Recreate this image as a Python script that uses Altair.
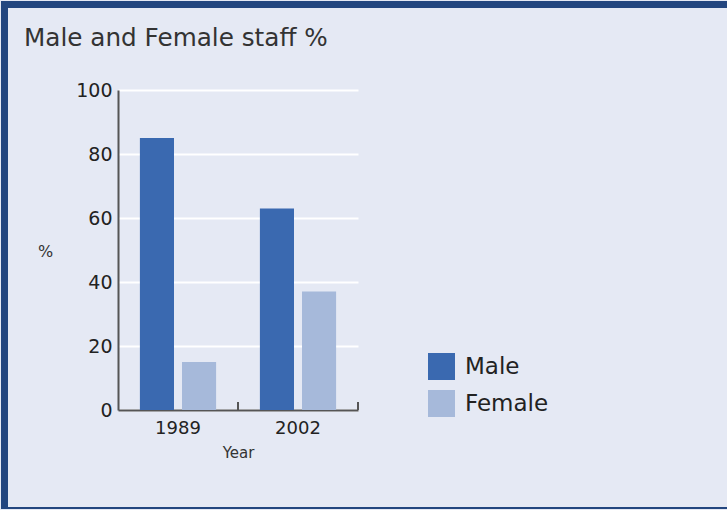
import altair as alt
import pandas as pd

years = ["1989", "2002"]
genders = ["Male", "Female"]
male = [85, 63]
female = [15, 37]
y_ticks = [0, 20, 40, 60, 80, 100]

rows = []
for i, yr in enumerate(years):
    rows.append({"Year": yr, "Gender": "Male", "Pct": male[i]})
    rows.append({"Year": yr, "Gender": "Female", "Pct": female[i]})
df = pd.DataFrame(rows)

W, H = 240, 320
PL, PT = 118, 90
CW, CH = 727, 510
FONT = "DejaVu Sans"
BORDER = "#23467F"

xscale = alt.Scale(domain=years, paddingInner=0, paddingOuter=0)

bars = alt.Chart(df).mark_bar().encode(
    x=alt.X("Year:N", scale=xscale, sort=years,
            axis=alt.Axis(title="Year", labelAngle=0, ticks=False, grid=False,
                          labelFontSize=18, labelPadding=9, titleFontSize=15,
                          titleFontWeight="normal", titlePadding=8,
                          domainColor="#555", domainWidth=2)),
    xOffset=alt.XOffset("Gender:N", sort=genders,
                        scale=alt.Scale(domain=genders, paddingInner=0.19, paddingOuter=0.52)),
    y=alt.Y("Pct:Q", scale=alt.Scale(domain=[0, 100], nice=False),
            axis=alt.Axis(title="%", values=y_ticks, ticks=False, grid=True,
                          gridColor="#FFFFFF", gridWidth=2,
                          labelFontSize=19, labelPadding=6,
                          titleAngle=0, titleX=-73, titleY=161, titleAlign="center",
                          titleBaseline="middle", titleFontSize=16, titleFontWeight="normal",
                          domainColor="#555", domainWidth=2)),
    color=alt.Color("Gender:N", sort=genders,
                    scale=alt.Scale(domain=genders, range=["#3A69B0", "#A6B9DA"]),
                    legend=alt.Legend(title=None, orient="none", legendX=310, legendY=263,
                                      symbolType="square", symbolSize=729,
                                      symbolStrokeWidth=0, labelFontSize=23,
                                      labelOffset=10, rowPadding=10, padding=0,
                                      labelColor="#222")),
)

tick_df = pd.DataFrame({"Year": years})
ticks = alt.Chart(tick_df).mark_rule(color="#555", strokeWidth=2).encode(
    x=alt.X("Year:N", bandPosition=1),
    y=alt.value(H - 8),
    y2=alt.value(H),
)

one = pd.DataFrame({"k": [0]})
border_top = alt.Chart(one).mark_rect(color=BORDER).encode(
    x=alt.value(1 - PL), x2=alt.value(CW - PL), y=alt.value(1 - PT), y2=alt.value(8 - PT))
border_left = alt.Chart(one).mark_rect(color=BORDER).encode(
    x=alt.value(1 - PL), x2=alt.value(8 - PL), y=alt.value(1 - PT), y2=alt.value(509 - PT))
border_bottom = alt.Chart(one).mark_rect(color=BORDER).encode(
    x=alt.value(1 - PL), x2=alt.value(CW - PL), y=alt.value(507 - PT), y2=alt.value(509 - PT))

chart = alt.layer(bars, ticks, border_top, border_left, border_bottom).properties(
    width=W, height=H,
    title=alt.TitleParams("Male and Female staff %", anchor="start", frame="group",
                          dx=24 - PL, dy=70, offset=0, baseline="alphabetic",
                          fontSize=24.7, fontWeight="normal", color="#333", font=FONT),
    autosize=alt.AutoSizeParams(type="none"),
    padding={"left": PL, "top": PT, "right": CW - PL - W, "bottom": CH - PT - H},
    background="#E5E9F4",
).configure(font=FONT).configure_view(stroke=None).configure_axis(
    labelColor="#222", titleColor="#333", labelFont=FONT, titleFont=FONT
).configure_legend(labelFont=FONT)

chart.save("out.html", embed_options={"renderer": "svg", "actions": False})
